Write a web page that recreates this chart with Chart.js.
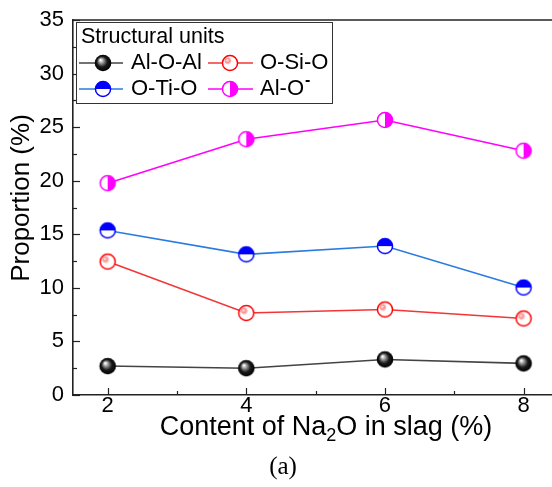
<!DOCTYPE html>
<html>
<head>
<meta charset="utf-8">
<script src="https://cdn.jsdelivr.net/npm/chart.js@4/dist/chart.umd.min.js"></script>
<style>
  html, body { margin: 0; padding: 0; background: #fff; overflow: hidden; }
  canvas { display: block; }
</style>
</head>
<body>
<canvas id="c" width="552" height="487"></canvas>
<script>
// Na2O content in slag (%)
const naContent = [2, 4, 6, 8];
// Proportion (%) of each structural unit
const alOAl = [2.70, 2.50, 3.32, 2.95];
const oSiO = [12.45, 7.65, 7.98, 7.14];
const oTiO = [15.36, 13.13, 13.90, 10.03];
const alOMinus = [19.77, 23.87, 25.67, 22.80];
const seriesNames = ['Al-O-Al', 'O-Si-O', 'O-Ti-O', 'Al-O\u207B'];
const xTickValues = [2, 4, 6, 8];
const yTickValues = [0, 5, 10, 15, 20, 25, 30, 35];

const FONT = '"Liberation Sans", Arial, sans-serif';

// marker sprites
function sprite(drawFn) {
  const c = document.createElement('canvas');
  c.width = 22; c.height = 22;
  const g = c.getContext('2d');
  drawFn(g, 11, 11, 8.3);
  return c;
}
const ballMarker = sprite((g, x, y, r) => {
  const grd = g.createRadialGradient(x - 2.5, y - 3, 0.5, x, y, r);
  grd.addColorStop(0, '#ffffff');
  grd.addColorStop(0.25, '#9a9a9a');
  grd.addColorStop(0.6, '#1a1a1a');
  grd.addColorStop(1, '#000000');
  g.beginPath(); g.arc(x, y, r, 0, Math.PI * 2);
  g.fillStyle = grd; g.fill();
});
const hollowBallMarker = sprite((g, x, y, r) => {
  g.beginPath(); g.arc(x, y, r - 0.75, 0, Math.PI * 2);
  g.fillStyle = '#ffffff'; g.fill();
  const grd = g.createRadialGradient(x - 3, y - 3, 0.3, x - 2, y - 2, 4);
  grd.addColorStop(0, '#ffe0e0');
  grd.addColorStop(0.5, '#f79090');
  grd.addColorStop(1, 'rgba(255,120,120,0)');
  g.beginPath(); g.arc(x - 2, y - 2, 4, 0, Math.PI * 2);
  g.fillStyle = grd; g.fill();
  g.beginPath(); g.arc(x, y, r - 0.75, 0, Math.PI * 2);
  g.lineWidth = 1.5; g.strokeStyle = '#ff0000'; g.stroke();
});
const topHalfMarker = sprite((g, x, y, r) => {
  g.beginPath(); g.arc(x, y, r - 0.75, 0, Math.PI * 2);
  g.fillStyle = '#ffffff'; g.fill();
  g.beginPath(); g.arc(x, y, r - 0.75, Math.PI, 0); g.closePath();
  g.fillStyle = '#0000ff'; g.fill();
  g.beginPath(); g.arc(x, y, r - 0.75, 0, Math.PI * 2);
  g.lineWidth = 1.5; g.strokeStyle = '#0000ff'; g.stroke();
});
const rightHalfMarker = sprite((g, x, y, r) => {
  g.beginPath(); g.arc(x, y, r - 0.75, 0, Math.PI * 2);
  g.fillStyle = '#ffffff'; g.fill();
  g.beginPath(); g.arc(x, y, r - 0.75, -Math.PI / 2, Math.PI / 2); g.closePath();
  g.fillStyle = '#ff00ff'; g.fill();
  g.beginPath(); g.arc(x, y, r - 0.75, 0, Math.PI * 2);
  g.lineWidth = 1.5; g.strokeStyle = '#ff00ff'; g.stroke();
});

const lineColors = ['#444444', '#f53535', '#2a7be0', '#ff00ff'];
const markers = [ballMarker, hollowBallMarker, topHalfMarker, rightHalfMarker];
const seriesValues = [alOAl, oSiO, oTiO, alOMinus];

const datasets = seriesValues.map((vals, i) => ({
  label: seriesNames[i],
  data: naContent.map((x, j) => ({ x: x, y: vals[j] })),
  borderColor: lineColors[i],
  backgroundColor: lineColors[i],
  borderWidth: 1.6,
  pointStyle: markers[i],
  pointRadius: 8,
  pointHoverRadius: 8,
  tension: 0
}));

// frame, inward ticks, titles and legend
const decorations = {
  id: 'decorations',
  afterDraw(chart) {
    const ctx = chart.ctx;
    const a = chart.chartArea;
    const xs = chart.scales.x, ys = chart.scales.y;
    ctx.save();
    ctx.strokeStyle = '#222';
    ctx.lineWidth = 1.6;
    // top frame line
    ctx.beginPath(); ctx.moveTo(a.left, a.top); ctx.lineTo(chart.width, a.top); ctx.stroke();
    // y ticks
    ctx.lineWidth = 1.2;
    for (let v = 0; v <= 35; v += 2.5) {
      const y = Math.round(ys.getPixelForValue(v)) + 0.5;
      const len = (v % 5 === 0) ? 7 : 4;
      ctx.beginPath(); ctx.moveTo(a.left, y); ctx.lineTo(a.left + len, y); ctx.stroke();
    }
    // x ticks
    for (let v = 2; v <= 8; v += 1) {
      const x = Math.round(xs.getPixelForValue(v)) + 0.5;
      const len = (v % 2 === 0) ? 7 : 4;
      ctx.beginPath(); ctx.moveTo(x, a.bottom); ctx.lineTo(x, a.bottom - len); ctx.stroke();
    }

    // y title
    ctx.fillStyle = '#000';
    ctx.save();
    ctx.translate(22, 198);
    ctx.rotate(-Math.PI / 2);
    ctx.font = '26px ' + FONT;
    ctx.textAlign = 'center';
    ctx.textBaseline = 'middle';
    ctx.fillText('Proportion (%)', 0, 0);
    ctx.restore();

    // x title with subscript
    const partA = 'Content of Na', sub = '2', partB = 'O in slag (%)';
    ctx.textBaseline = 'alphabetic';
    ctx.textAlign = 'left';
    ctx.font = '27px ' + FONT;
    const wA = ctx.measureText(partA).width, wB = ctx.measureText(partB).width;
    ctx.font = '18px ' + FONT;
    const wS = ctx.measureText(sub).width;
    let tx = 326 - (wA + wS + wB) / 2;
    const base = 435;
    ctx.font = '27px ' + FONT; ctx.fillText(partA, tx, base); tx += wA;
    ctx.font = '18px ' + FONT; ctx.fillText(sub, tx, base + 6); tx += wS;
    ctx.font = '27px ' + FONT; ctx.fillText(partB, tx, base);

    // panel label
    ctx.font = '25px "Liberation Serif", "Times New Roman", serif';
    ctx.textAlign = 'center';
    ctx.textBaseline = 'middle';
    ctx.fillText('(a)', 283, 467);

    // legend
    const bx = 76, by = 22, bw = 256, bh = 81;
    ctx.fillStyle = '#fff';
    ctx.fillRect(bx, by, bw, bh);
    ctx.strokeStyle = '#333';
    ctx.lineWidth = 1;
    ctx.strokeRect(bx + 0.5, by + 0.5, bw, bh);
    ctx.fillStyle = '#000';
    ctx.font = '21.5px ' + FONT;
    ctx.textAlign = 'left';
    ctx.textBaseline = 'alphabetic';
    ctx.fillText('Structural units', 81, 43);
    const cols = [{ l0: 79, l1: 123, m: 103, t: 131 }, { l0: 208, l1: 253, m: 230, t: 260 }];
    const rows = [63, 89];
    chart.data.datasets.forEach((ds, i) => {
      const c = cols[i % 2], y = rows[Math.floor(i / 2)];
      ctx.strokeStyle = ds.borderColor;
      ctx.lineWidth = 1.6;
      ctx.beginPath(); ctx.moveTo(c.l0, y); ctx.lineTo(c.l1, y); ctx.stroke();
      const mk = ds.pointStyle;
      ctx.drawImage(mk, c.m - mk.width / 2, y - mk.height / 2);
      ctx.fillStyle = '#000';
      ctx.textBaseline = 'middle';
      ctx.font = '22px ' + FONT;
      let label = ds.label;
      const sup = label.endsWith('\u207B');
      if (sup) label = label.slice(0, -1);
      ctx.fillText(label, c.t, y);
      if (sup) {
        const w = ctx.measureText(label).width;
        ctx.font = 'bold 16px ' + FONT;
        ctx.fillText('-', c.t + w + 1, y - 8);
      }
    });
    ctx.restore();
  }
};

new Chart(document.getElementById('c'), {
  type: 'line',
  data: { datasets: datasets },
  options: {
    responsive: false,
    animation: false,
    events: [],
    layout: { autoPadding: false, padding: { top: 20, right: 0, left: 0, bottom: 0 } },
    plugins: { legend: { display: false }, tooltip: { enabled: false } },
    scales: {
      x: {
        type: 'linear',
        min: 1.5,
        max: 8.41,
        afterFit(s) { s.height = 92; s.paddingLeft = 0; s.paddingRight = 0; },
        afterBuildTicks(s) { s.ticks = xTickValues.map(v => ({ value: v })); },
        grid: { display: false, drawTicks: false },
        border: { display: true, color: '#222', width: 1.6 },
        ticks: { color: '#000', font: { family: FONT, size: 22 }, padding: -2, maxRotation: 0 }
      },
      y: {
        min: 0,
        max: 35,
        afterFit(s) { s.width = 73; s.paddingTop = 0; s.paddingBottom = 0; },
        afterBuildTicks(s) { s.ticks = yTickValues.map(v => ({ value: v })); },
        grid: { display: false, drawTicks: false },
        border: { display: true, color: '#222', width: 1.6 },
        ticks: { color: '#000', font: { family: FONT, size: 22 }, padding: 9 }
      }
    }
  },
  plugins: [decorations]
});
</script>
</body>
</html>
